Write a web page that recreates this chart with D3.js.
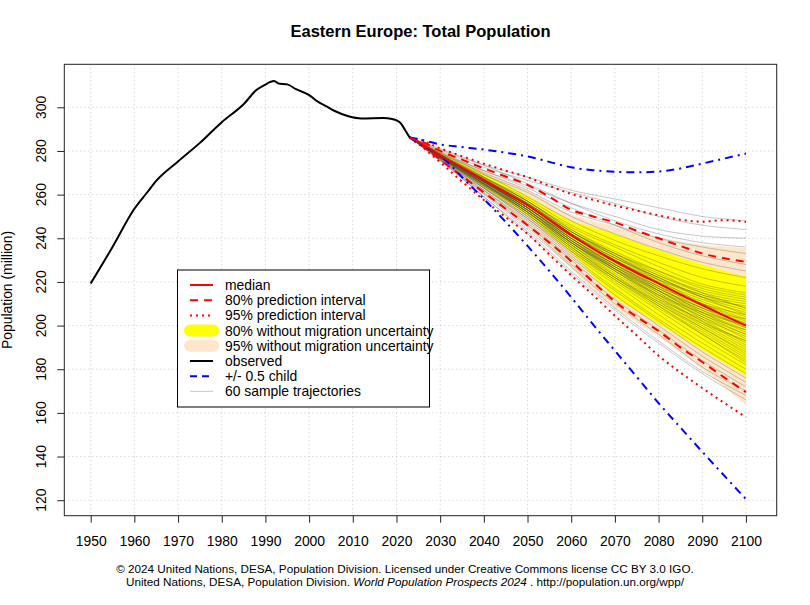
<!DOCTYPE html>
<html><head><meta charset="utf-8">
<script src="https://cdn.jsdelivr.net/npm/d3@7"></script>
<style>body{margin:0;background:#fff}text{font-family:"Liberation Sans",Arial,Helvetica,sans-serif;fill:#000}</style>
</head><body><svg id="c" width="810" height="605"></svg>
<script>
// ---------- DATA ----------
const yearTicks = [1950,1960,1970,1980,1990,2000,2010,2020,2030,2040,2050,2060,2070,2080,2090,2100];
const popTicks = [120,140,160,180,200,220,240,260,280,300];

const obsYears  = [1950,1955,1960,1963,1965,1970,1975,1980,1985,1988,1990,1991,1992,1993,1995,1997,2000,2002,2004,2006,2009,2012,2017,2019,2020,2021,2022,2023];
const obsValues = [219.3,236,253.5,261.2,266.3,275.2,283.7,293.2,301.4,308,310.4,311.5,312.1,310.9,310.5,308.3,305.6,302.6,300.4,298.2,295.9,294.9,295.1,294.6,294,292.6,289.5,286.2];

const projYears = [2023,2025,2030,2035,2040,2045,2050,2055,2060,2065,2070,2075,2080,2085,2090,2095,2100];
const medianValues = [286.2,284.3,278,272.3,266.6,261,255.2,248.5,241.5,235.2,229.5,224.2,219.3,214.2,209.4,204.6,200];
const pi80Upper = [286.2,285,280,276,272,268.3,264.5,259,253,250,247.3,243.5,240,236.5,233,230.8,229.2];
const pi80Lower = [286.2,283.6,276,268.5,261,253.5,246,238,229.5,220,211,204,197.5,190,183.3,176.3,169.5];
const pi95Upper = [286.2,285.4,281.2,277.6,274.2,271,268,264,260.3,257.6,255,252.7,250.5,248.5,247.6,248.3,247.5];
const pi95Lower = [286.2,283.2,274.8,266,257.5,249.7,242,232.5,223,214,204.5,195.5,186.2,178.5,171.4,164.6,158];
const halfChildUpper = [286.2,285.4,283,281.8,280.6,279.2,277.5,275,272.5,271.2,270.5,270.2,270.6,272,274.2,276.5,278.8];
const halfChildLower = [286.2,283.5,278,268,258,247.5,236.5,225,213,200.5,188.5,176.5,164.5,153.3,142.2,131.3,120.5];
const noMig80Upper = [286.2,284.8,279.3,274.5,269.5,264.5,259.5,253.5,248,245,242,238.2,234.6,231.2,228,225,222.4];
const noMig80Lower = [286.2,283.9,276.8,270,263.5,257,250.5,242,233.5,223,213,206.8,200.8,195,189,183,177];
const noMig95Upper = [286.2,285,280,275.5,271,266.5,262,256.5,251,248,245.5,243,240.5,238.5,237,236.2,235.5];
const noMig95Lower = [286.2,283.6,275.8,268,260.5,253,245.5,236,226.5,216.5,208,201.3,195,187.5,180,172,163.5];

const trajYears = [2023,2030,2040,2050,2060,2070,2080,2090,2100];
const trajectories = [
 [286.2,280,272.5,266.5,261,256,250,246,244],
 [286.2,280.5,273.5,268,262,258,254,250,248],
 [286.2,279.5,271,264,256,250,244,241,240],
 [286.2,281,273.5,265,256,248,242,238,236],
 [286.2,279,270,262,252,246,240,236,233],
 [286.2,279,271,263,254,246,238,232,228],
 [286.2,278.5,269,261,250,242,235,229,225],
 [286.2,279,269.5,259,248,239,232,226,222],
 [286.2,278,268,258,246,237,229,222,218],
 [286.2,278.5,268,257,245,236,227,219,215],
 [286.2,278,267.5,257,244,234,225,217,213],
 [286.2,277.5,267,256,243,233,223,215,211],
 [286.2,278,267,256,242,231,222,213,209],
 [286.2,278,266,254,241,231,221,213,207],
 [286.2,277.5,266,255,241,230,220,210,205],
 [286.2,278,267,256,242,230,219,208,203],
 [286.2,278,266,254,240,228,218,209,201],
 [286.2,277.5,265.5,254,239,228,217,207,199],
 [286.2,278,266.5,255,241,229,218,206,197],
 [286.2,277,265,253,239,227,216,205,196],
 [286.2,278,266,254,240,227,215,204,194],
 [286.2,277.5,265,252,238,226,215,203,192],
 [286.2,277,264.5,252,237,225,213,202,191],
 [286.2,278,266,253,238,225,212,200,189],
 [286.2,277,264,251,236,223,211,199,188],
 [286.2,277.5,265,251,236,222,210,198,186],
 [286.2,277,263.5,250,235,221,209,196,184],
 [286.2,276.5,263,249,234,220,207,194,182],
 [286.2,277,263,249,233,219,205,192,180],
 [286.2,276.5,262,248,232,217,203,190,178],
 [286.2,276,262,247,231,216,202,188,176],
 [286.2,276.5,261,246,230,214,200,186,174],
 [286.2,276,260.5,245,228,212,198,184,172],
 [286.2,275.5,260,244,227,210,196,181,170],
 [286.2,276,259,243,225,208,193,179,168],
 [286.2,275.5,259,242,224,207,192,178,166],
 [286.2,278.5,267.5,257,244,233,224,215,208],
 [286.2,277.5,266,254,240,229,219,211,204],
 [286.2,278,266.5,256,243,232,221,210,202],
 [286.2,277,265,253,238,227,217,208,199],
 [286.2,277.5,265.5,254,240,228,216,205,198],
 [286.2,278,267,255,241,230,220,212,206],
 [286.2,277,264.5,252,238,226,214,202,193],
 [286.2,277.5,266,254,239,226,213,201,190],
 [286.2,278,266,253,239,226,214,204,196],
 [286.2,277,264,252,237,224,212,203,195],
 [286.2,278.5,268,257,243,232,222,214,210],
 [286.2,277.5,265,253,238,225,214,206,200],
 [286.2,278,267,255,242,229,217,208,201],
 [286.2,277,264,251,235,222,211,201,193],
 [286.2,278,266,255,242,231,222,213,205],
 [286.2,277,265,252,237,223,210,199,187],
 [286.2,277.5,266,254,240,228,218,210,203],
 [286.2,278,267,256,243,233,225,218,214],
 [286.2,277.5,265,252,236,222,209,197,185],
 [286.2,277,264.5,253,239,227,216,206,198],
 [286.2,278,266.5,254,241,230,221,214,208],
 [286.2,276.5,263,250,234,221,208,196,183],
 [286.2,278,266,255,242,232,223,216,212],
 [286.2,277.5,265.5,253,238,226,216,207,200]
];

const legendLabels = ["median","80% prediction interval","95% prediction interval","80% without migration uncertainty","95% without migration uncertainty","observed","+/- 0.5 child","60 sample trajectories"];

// ---------- DRAW ----------
const svg = d3.select('#c');
const L=64.3, R=776.7, T=64.3, B=515.7;
const x = d3.scaleLinear().domain([1943.96,2107.04]).range([L,R]);
const y = d3.scaleLinear().domain([112.9,319.7]).range([B,T]);

const RED="#ff0000", BLUE="#0000ff", YEL="#ffff00", BEIGE="#fde6c9";
const DASH="8,6", DOT="2,4", DASHDOT="8,5,2,5";
const FS = '13.9px';

// grid
const g = svg.append('g');
g.selectAll('.vg').data(yearTicks).join('line')
 .attr('x1',d=>x(d)).attr('x2',d=>x(d)).attr('y1',T).attr('y2',B)
 .attr('stroke','#c4c4c4').attr('stroke-dasharray','1,3');
g.selectAll('.hg').data(popTicks).join('line')
 .attr('y1',d=>y(d)).attr('y2',d=>y(d)).attr('x1',L).attr('x2',R)
 .attr('stroke','#c4c4c4').attr('stroke-dasharray','1,3');

const curve = d3.curveMonotoneX;
function band(lo, hi, color){
  const a = d3.area().x((d,i)=>x(projYears[i])).y0((d,i)=>y(lo[i])).y1((d,i)=>y(hi[i])).curve(curve);
  svg.append('path').attr('d',a(projYears)).attr('fill',color);
}
band(noMig95Lower,noMig95Upper,BEIGE);
band(noMig80Lower,noMig80Upper,YEL);

// trajectories
const tl = d3.line().x((d,i)=>x(trajYears[i])).y(d=>y(d)).curve(d3.curveCatmullRom);
svg.append('g').selectAll('path').data(trajectories).join('path')
 .attr('d',d=>tl(d)).attr('fill','none').attr('stroke','#444').attr('stroke-opacity',0.3).attr('stroke-width',1);

function pline(vals, color, dash, w){
  const l = d3.line().x((d,i)=>x(projYears[i])).y(d=>y(d)).curve(curve);
  const p = svg.append('path').attr('d',l(vals)).attr('fill','none').attr('stroke',color).attr('stroke-width',w||2);
  if(dash) p.attr('stroke-dasharray',dash);
}
pline(pi95Upper,RED,DOT); pline(pi95Lower,RED,DOT);
pline(pi80Upper,RED,DASH); pline(pi80Lower,RED,DASH);
pline(halfChildUpper,BLUE,DASHDOT); pline(halfChildLower,BLUE,DASHDOT);
pline(medianValues,RED,null);

// observed
const ol = d3.line().x((d,i)=>x(obsYears[i])).y(d=>y(d)).curve(d3.curveMonotoneX);
svg.append('path').attr('d',ol(obsValues)).attr('fill','none').attr('stroke','#000').attr('stroke-width',2);

// frame
svg.append('rect').attr('x',L).attr('y',T).attr('width',R-L).attr('height',B-T).attr('fill','none').attr('stroke','#222').attr('stroke-width',1);

// axes
const xa = svg.append('g').attr('transform',`translate(0,${B})`)
 .call(d3.axisBottom(x).tickValues(yearTicks).tickSize(7).tickPadding(13.6).tickFormat(d3.format('d')));
xa.select('.domain').remove();
xa.selectAll('text').style('font-size',FS).attr('fill','#000');
xa.selectAll('line').attr('stroke','#222');

const ya = svg.append('g').attr('transform',`translate(${L},0)`)
 .call(d3.axisLeft(y).tickValues(popTicks).tickSize(7).tickFormat(''));
ya.select('.domain').remove();
ya.selectAll('line').attr('stroke','#222');
svg.append('g').selectAll('text').data(popTicks).join('text')
 .attr('x',46).attr('y',d=>y(d)).attr('transform',d=>`rotate(-90,46,${y(d)})`)
 .attr('text-anchor','middle').style('font-size',FS).text(d=>d);

// labels
svg.append('text').attr('x',420.5).attr('y',37).attr('text-anchor','middle')
 .style('font-size','16.5px').style('font-weight','bold').text('Eastern Europe: Total Population');
svg.append('text').attr('x',12).attr('y',290).attr('transform','rotate(-90,12,290)')
 .attr('text-anchor','middle').style('font-size',FS).text('Population (million)');
svg.append('text').attr('x',405).attr('y',573).attr('text-anchor','middle').style('font-size','11.7px')
 .text('© 2024 United Nations, DESA, Population Division. Licensed under Creative Commons license CC BY 3.0 IGO.');
const f2 = svg.append('text').attr('x',405).attr('y',585.5).attr('text-anchor','middle').style('font-size','11.7px');
f2.append('tspan').text('United Nations, DESA, Population Division. ');
f2.append('tspan').style('font-style','italic').text('World Population Prospects 2024');
f2.append('tspan').text(' . http://population.un.org/wpp/');

// legend
const lg = svg.append('g');
lg.append('rect').attr('x',177.5).attr('y',270).attr('width',252).attr('height',137).attr('fill','#fff').attr('stroke','#000');
const styles = [
 {c:RED,d:null,w:2},{c:RED,d:DASH,w:2},{c:RED,d:DOT,w:2},
 {c:YEL,d:null,w:12,band:true},{c:BEIGE,d:null,w:12,band:true},
 {c:'#000',d:null,w:2},{c:BLUE,d:'7,5',w:2},{c:'#d0d0d0',d:null,w:1.2}
];
legendLabels.forEach((lab,i)=>{
  const yy = 285 + i*15.2;
  const s = styles[i];
  const ln = lg.append('line').attr('x1',190).attr('x2',213).attr('y1',yy).attr('y2',yy).attr('stroke',s.c).attr('stroke-width',s.w);
  if(s.band) ln.attr('stroke-linecap','round');
  if(s.d) ln.attr('stroke-dasharray',s.d);
  lg.append('text').attr('x',225).attr('y',yy+5).style('font-size',FS).text(lab);
});
</script></body></html>
